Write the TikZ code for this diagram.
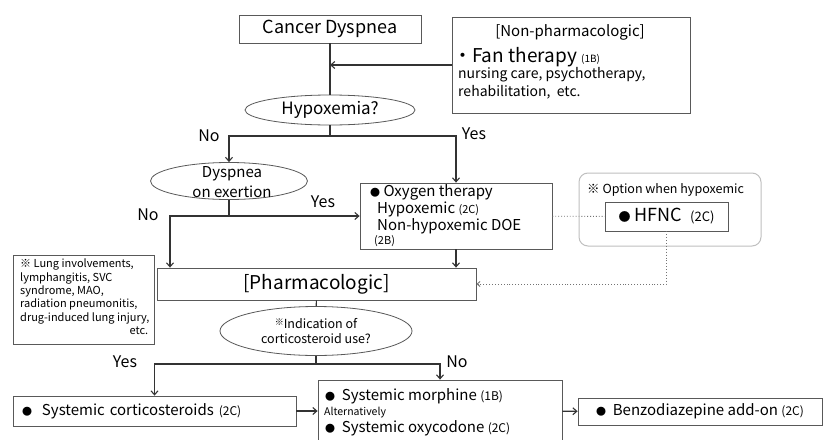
\documentclass[tikz,border=0pt]{standalone}
\usepackage{fontspec}
\setmainfont{Noto Sans CJK JP}
\usetikzlibrary{shapes.geometric,arrows.meta}
\newcommand\grade[2][11]{{\fontsize{#1}{#1}\selectfont(#2)}}
\newcommand\bul{{\fontsize{10}{10}\selectfont●}}

\begin{document}
\begin{tikzpicture}[x=1pt,y=-1pt,
  box/.style={draw=black!65, line width=0.8pt, inner sep=0pt},
  oval/.style={ellipse, draw=black!65, line width=0.8pt, inner sep=0pt},
  txt/.style={inner sep=0pt},
  line/.style={draw=black!80, line width=1.1pt},
  arr/.style={line, -{Straight Barb[length=4pt,width=7pt]}},
  dots/.style={draw=black!55, line width=0.9pt, dotted},
  lbl/.style={font=\fontsize{16}{19}\selectfont, inner sep=0pt}]
\clip (0,0) rectangle (840,439);
\fill[white] (0,0) rectangle (840,439);

\node[box, minimum width=182pt, minimum height=28pt, font=\fontsize{18}{21}\selectfont] (cd) at (330,29) {Cancer Dyspnea};
\node[oval, minimum width=170pt, minimum height=30pt, font=\fontsize{17}{20}\selectfont] (hyp) at (330,110) {Hypoxemia?};

\node[box, minimum width=238pt, minimum height=96pt] (np) at (571,65) {};
\node[txt, anchor=base, font=\fontsize{15}{18}\selectfont] (nptitle) at (570,36) {[Non-pharmacologic]};
\node[txt, anchor=base west, font=\fontsize{19}{22}\selectfont] (npfan) at (453,62) {・Fan therapy \grade[10]{1B}};
\node[txt, anchor=base west, font=\fontsize{14}{17.5}\selectfont, align=left] (npmore) at (458,96) {nursing care, psychotherapy,\\rehabilitation,\ \ etc.};

\node[oval, minimum width=157pt, minimum height=37pt] (doe) at (229,181) {};
\node[txt, font=\fontsize{15}{20}\selectfont, align=center] (doetext) at (232,182) {Dyspnea\\on exertion};

\node[box, minimum width=192pt, minimum height=66pt] (oxy) at (456,216) {};
\node[txt, anchor=base west, font=\fontsize{15}{18}\selectfont] (oxyhead) at (370,196) {\bul\ Oxygen therapy};
\node[txt, anchor=base west, font=\fontsize{15}{18}\selectfont] (oxyhyp) at (377,213) {Hypoxemic \grade{2C}};
\node[txt, anchor=base west, font=\fontsize{15}{18}\selectfont] (oxydoe) at (377,230) {Non-hypoxemic DOE};
\node[txt, anchor=base west] (oxygrade) at (374,244) {\grade{2B}};

\node[draw=black!25, line width=1pt, rounded corners=9pt, minimum width=182pt, minimum height=73pt] (opt) at (670,209.5) {};
\node[txt, anchor=base west, font=\fontsize{12.5}{15}\selectfont] (opttext) at (587,193) {※ Option when hypoxemic};
\node[box, minimum width=123pt, minimum height=29pt, font=\fontsize{18}{21}\selectfont] (hfnc) at (666.5,216.5) {{\fontsize{12}{12}\selectfont●}\ HFNC\ \ \grade[13]{2C}};

\node[box, minimum width=141pt, minimum height=89pt] (lung) at (83.5,299.5) {};
\node[txt, anchor=north west, font=\fontsize{11}{13.3}\selectfont, align=left] (lungtext) at (20,259) {※ Lung involvements,\\lymphangitis, SVC\\syndrome, MAO,\\radiation pneumonitis,\\drug-induced lung injury,\\\makebox[128pt][r]{etc.}};

\node[box, minimum width=319pt, minimum height=32pt, font=\fontsize{19}{22}\selectfont] (pharm) at (316.5,284) {[Pharmacologic]};

\node[oval, minimum width=192pt, minimum height=49pt] (ind) at (316,331) {};
\node[txt, font=\fontsize{12.5}{14.7}\selectfont, align=center] (indtext) at (316,331) {{\fontsize{9}{9}\selectfont\raisebox{3pt}{※}}Indication of\\corticosteroid use?};

\node[box, minimum width=283pt, minimum height=30pt, text width=265pt, align=left, font=\fontsize{15}{18}\selectfont] (cs) at (154.5,411) {\bul\ \ Systemic corticosteroids \grade[12]{2C}};
\node[box, minimum width=244pt, minimum height=62pt] (morph) at (440,411) {};
\node[txt, anchor=base west, font=\fontsize{15}{18}\selectfont] (morphone) at (325,400) {\bul\ \ Systemic morphine \grade[12]{1B}};
\node[txt, anchor=base west, font=\fontsize{10.5}{12}\selectfont] (morphalt) at (324,415) {Alternatively};
\node[txt, anchor=base west, font=\fontsize{15}{18}\selectfont] (morphtwo) at (325,432) {\bul\ \ Systemic oxycodone \grade[12]{2C}};
\node[box, minimum width=244pt, minimum height=27pt, font=\fontsize{15}{18}\selectfont] (benzo) at (700,411.5) {\bul\ \ Benzodiazepine add-on \grade[12]{2C}};

\node[lbl] (hypno) at (209,136) {No};
\node[lbl] (hypyes) at (474,134) {Yes};
\node[lbl] (doeyes) at (323,202) {Yes};
\node[lbl] (doeno) at (148,215) {No};
\node[lbl] (indyes) at (125,362) {Yes};
\node[lbl] (indno) at (457,362) {No};

\coordinate (hypj) at (330,136);
\coordinate (doej) at (229,216);
\coordinate (doel) at (170,216);
\coordinate (indj) at (316,364);

\draw[line] (cd) -- (hyp);
\draw[arr] (np) -- (np -| cd);
\draw[line] (hyp) -- (hypj);
\draw[arr] (hypj) -| (doe);
\draw[arr] (hypj) -| (oxy);
\draw[line] (doe) -- (doej);
\draw[arr] (doej) -- (oxy);
\draw[arr] (doej) -- (doel) -- (doel |- pharm.north);
\draw[arr] (oxy) -- (oxy |- pharm.north);
\draw[dots] (oxy) -- (hfnc);
\draw[dots, -{Straight Barb[length=3pt,width=5pt]}] (hfnc) |- (pharm);
\draw[line] (pharm) -- (ind);
\draw[line] (ind) -- (indj);
\draw[arr] (indj) -| (cs);
\draw[arr] (indj) -| (morph);
\draw[arr] (cs) -- (morph);
\draw[arr] (morph) -- (benzo);
\end{tikzpicture}
\end{document}
